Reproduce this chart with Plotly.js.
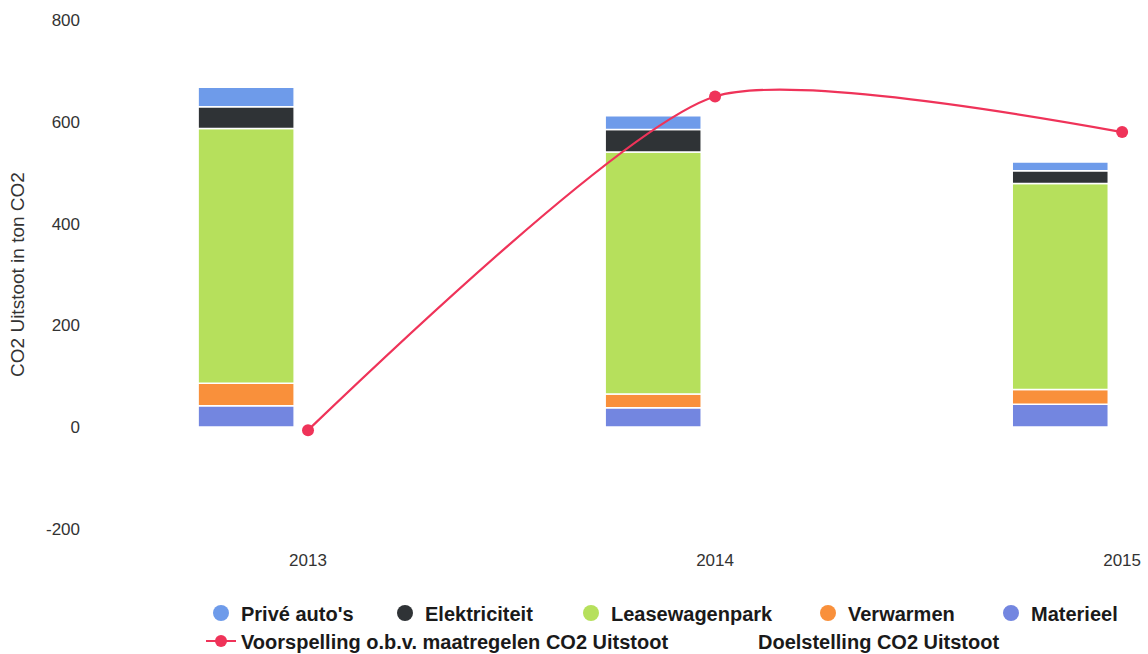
<!DOCTYPE html>
<html>
<head>
<meta charset="utf-8">
<script src="https://cdn.plot.ly/plotly-3.0.1.min.js"></script>
<style>html,body{margin:0;padding:0;background:#fff;}#chart{width:1148px;height:654px;}</style>
</head>
<body>
<div id="chart"></div>
<script>
const years = [2013, 2014, 2015];
const yearLabels = ['2013', '2014', '2015'];
const materieel = [42, 38, 45];
const verwarmen = [44, 27, 29];
const leasewagenpark = [501, 476, 405];
const elektriciteit = [43, 44, 25];
const priveAutos = [38, 27, 17];
const voorspelling = [-6, 650, 580];
const doelstelling = [null, null, null];
const yTickVals = [-200, 0, 200, 400, 600, 800];
const yTickText = ['-200', '0', '200', '400', '600', '800'];

const barSeries = [
  {name: 'Materieel', values: materieel, color: '#7386e0'},
  {name: 'Verwarmen', values: verwarmen, color: '#f9903b'},
  {name: 'Leasewagenpark', values: leasewagenpark, color: '#b6e05c'},
  {name: 'Elektriciteit', values: elektriciteit, color: '#2f3336'},
  {name: "Privé auto's", values: priveAutos, color: '#6e9bea'}
];
// legend slot per entry: [legend id, left px, row]
const legendSlots = {
  "Privé auto's": ['legend', 201, 0],
  'Elektriciteit': ['legend2', 385, 0],
  'Leasewagenpark': ['legend3', 571, 0],
  'Verwarmen': ['legend4', 808, 0],
  'Materieel': ['legend5', 991, 0],
  'Voorspelling o.b.v. maatregelen CO2 Uitstoot': ['legend6', 201, 1],
  'Doelstelling CO2 Uitstoot': ['legend7', 718, 1]
};

const traces = [];
barSeries.forEach(s => {
  traces.push({
    type: 'bar', x: years, y: s.values, name: s.name, legendgroup: s.name,
    showlegend: false, width: 0.236, offset: -0.27,
    marker: {color: s.color, line: {color: '#ffffff', width: 1.5}},
    hoverinfo: 'x+y+name'
  });
});
barSeries.forEach(s => {
  traces.push({
    type: 'scatter', mode: 'markers', x: [null], y: [null], name: s.name, legendgroup: s.name,
    legend: legendSlots[s.name][0],
    marker: {symbol: 'circle', size: 17, color: s.color}
  });
});
const vName = 'Voorspelling o.b.v. maatregelen CO2 Uitstoot';
traces.push({
  type: 'scatter', mode: 'lines+markers', x: years, y: voorspelling,
  name: vName, legend: legendSlots[vName][0],
  line: {color: '#ef3359', width: 2.2, shape: 'spline', smoothing: 0.6},
  marker: {color: '#ef3359', size: 12}
});
const dName = 'Doelstelling CO2 Uitstoot';
traces.push({
  type: 'scatter', mode: 'lines', x: years, y: doelstelling,
  name: dName, legend: legendSlots[dName][0],
  line: {color: 'rgba(0,0,0,0)', width: 2}
});

const legendFont = {size: 20, color: '#1a1a1a', family: 'Liberation Sans, Arial, sans-serif', weight: 'bold'};
const rowY = [1 - 613 / 654, 1 - 641 / 654];

const layout = {
  width: 1148, height: 654,
  margin: {l: 100, r: 10, t: 10, b: 115},
  paper_bgcolor: '#ffffff', plot_bgcolor: '#ffffff',
  barmode: 'relative',
  showlegend: true,
  font: {family: 'Liberation Sans, Arial, sans-serif', color: '#333333', size: 14},
  xaxis: {
    range: [2012.489, 2015.039], tickvals: years, ticktext: yearLabels,
    showgrid: false, zeroline: false, showline: false, ticks: '', ticklabelstandoff: 9,
    tickfont: {size: 17, color: '#333333'}
  },
  yaxis: {
    range: [-220, 820], tickvals: yTickVals, ticktext: yTickText,
    showgrid: false, zeroline: false, showline: false, ticks: '', ticklabelstandoff: 19,
    tickfont: {size: 17, color: '#333333'},
    title: {text: 'CO2 Uitstoot in ton CO2', font: {size: 19, color: '#333333'}, standoff: 16}
  }
};
Object.keys(legendSlots).forEach(n => {
  const [id, left, row] = legendSlots[n];
  layout[id] = {
    orientation: 'h', xref: 'container', yref: 'container',
    x: left / 1148, xanchor: 'left', y: rowY[row], yanchor: 'middle',
    font: legendFont, bgcolor: 'rgba(0,0,0,0)', borderwidth: 0
  };
});

Plotly.newPlot('chart', traces, layout, {displayModeBar: false, responsive: false});
</script>
</body>
</html>
